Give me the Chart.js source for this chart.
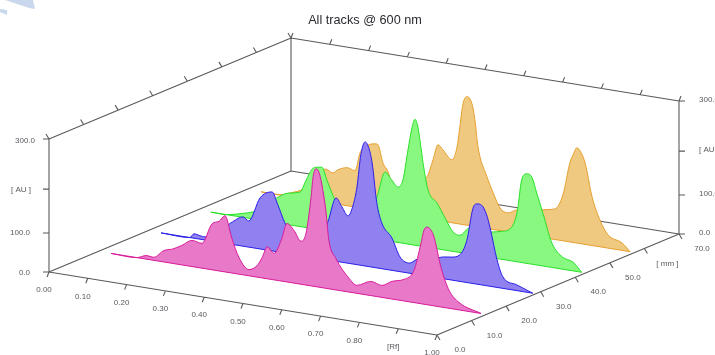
<!DOCTYPE html>
<html>
<head>
<meta charset="utf-8">
<title>All tracks @ 600 nm</title>
<script src="https://cdn.jsdelivr.net/npm/chart.js@4"></script>
<style>
  html, body { margin: 0; padding: 0; background: #fff; overflow: hidden; }
  #logo { position: absolute; left: 0; top: 0; width: 36px; height: 16px; background: #c9d8ec;
          clip-path: path("M5 0H33L35 9L29 8Z M0 9L7 10L7 15L0 12Z"); }
  canvas { position: absolute; left: 0; top: 0; filter: blur(0.3px); }
</style>
</head>
<body>
<div id="logo"></div>
<canvas id="chart" width="715" height="355"></canvas>
<script>
// one Rf / AU pair of lists per track, back track last
const pinkRf = [.033,.099,.123,.143,.169,.190,.215,.241,.267,.293,.311,.326,.344,.362,.388,.409,.422,.435,.453,.471,.486,.504,.522,.535,.548,.553,.561,.570,.578,.586,.594,.612,.646,.666,.702,.731,.757,.788,.813,.831,.839,.847,.856,.865,.883,.904,.929,.986];
const pinkAu = [0,0,8,7,26,32,44,59,56,104,112,127,78,38,14,26,46,72,60,92,132,119,97,117,200,245,266,255,222,176,109,71,31,18,32,27,40,49,72,135,167,175,171,155,89,40,17,0];
const blueRf = [.034,.108,.119,.134,.147,.173,.196,.214,.245,.260,.289,.320,.335,.353,.382,.402,.420,.436,.451,.464,.485,.500,.516,.529,.539,.549,.560,.570,.578,.590,.603,.629,.650,.675,.696,.727,.761,.784,.804,.822,.838,.848,.860,.873,.882,.900,.915,.951,.992];
const blueAu = [0,0,10,8,7,22,35,48,66,59,115,133,106,68,30,30,55,72,58,86,143,125,107,133,176,250,280,266,235,147,103,73,33,23,35,38,49,52,60,95,170,181,180,160,132,62,26,13,0];
const greenRf = [.034,.076,.117,.143,.173,.204,.233,.264,.279,.295,.307,.320,.333,.354,.372,.393,.413,.434,.449,.462,.483,.500,.517,.529,.542,.552,.560,.567,.576,.581,.594,.617,.638,.658,.676,.702,.722,.753,.787,.800,.823,.835,.848,.861,.874,.890,.913,.941,.967,.990];
const greenAu = [0,0,9,16,30,56,71,78,106,134,140,142,115,72,45,20,40,68,70,95,154,139,125,143,212,262,284,270,220,188,129,103,72,44,39,60,55,57,64,68,110,186,202,197,162,119,55,27,20,0];
const orangeRf = [.037,.086,.112,.143,.171,.202,.222,.235,.259,.279,.292,.310,.331,.338,.351,.364,.377,.408,.434,.449,.465,.480,.493,.506,.529,.542,.558,.568,.580,.588,.596,.619,.635,.653,.674,.697,.730,.764,.794,.815,.833,.842,.851,.862,.872,.890,.910,.931,.967,.988];
const orangeAu = [0,0,8,20,39,75,69,78,86,82,124,143,150,149,110,92,60,45,90,85,95,135,171,161,142,173,275,290,277,241,181,117,83,51,43,53,50,63,69,104,179,200,215,205,184,110,61,30,17,0];
const trackMm = [14.3, 28.6, 43, 57.2];

const rfTicks = [0, .1, .2, .3, .4, .5, .6, .7, .8, .9, 1];
const rfLabels = ["0.00", "0.10", "0.20", "0.30", "0.40", "0.50", "0.60", "0.70", "0.80", "[Rf]", "1.00"];
const mmTicks = [0, 10, 20, 30, 40, 50, 60, 70];
const mmLabels = ["0.0", "10.0", "20.0", "30.0", "40.0", "50.0", "[ mm ]", "70.0"];
const auTicks = [0, 88, 187, 300];
const auLabels = ["0.0", "100.0", "[ AU ]", "300.0"];

// parallel projection of the box onto the page
function project(rf, mm, au) {
  return {
    x: 49 + 388 * rf + 242 * mm / 70,
    y: 272 + 63 * rf - 101 * mm / 70 - 133 * au / 300,
  };
}

function trackPoints(rf, au, mm) {
  return rf.map((r, i) => project(r, mm, au[i]));
}

const GAP = { x: NaN, y: NaN };
function seg(a, b, dx, dy) {
  const end = b || { x: a.x + dx, y: a.y + dy };
  return [a, end, GAP];
}

// box edges and tick marks, one broken line
const framePts = [];
const edges = [
  [[0, 0, 0], [1, 0, 0]], [[1, 0, 0], [1, 70, 0]], [[0, 0, 0], [0, 70, 0]], [[0, 70, 0], [1, 70, 0]],
  [[0, 0, 0], [0, 0, 300]], [[0, 70, 0], [0, 70, 300]], [[1, 70, 0], [1, 70, 300]],
  [[0, 0, 300], [0, 70, 300]], [[0, 70, 300], [1, 70, 300]],
];
edges.forEach(([a, b]) => framePts.push(...seg(project(...a), project(...b))));
rfTicks.forEach((r) => {
  framePts.push(...seg(project(r, 0, 0), null, -2, 5));
  framePts.push(...seg(project(r, 70, 300), null, 2, -5));
});
mmTicks.forEach((m) => {
  framePts.push(...seg(project(1, m, 0), null, 3, 5));
  framePts.push(...seg(project(0, m, 300), null, -3, -5));
});
auTicks.forEach((a) => {
  framePts.push(...seg(project(0, 0, a), null, -6, 0));
  framePts.push(...seg(project(1, 70, a), null, 6, 0));
});

function trackSets(rf, au, mm, line, fill, order) {
  const pts = trackPoints(rf, au, mm);
  return [
    { data: pts, borderColor: line, backgroundColor: fill, fill: "shape", borderWidth: 1, cubicInterpolationMode: "monotone", order: order, clip: false },
    { data: [pts[0], pts[pts.length - 1]], borderColor: line, borderWidth: 1, fill: false, order: order - 0.5, clip: false },
  ];
}

const auLeftEnd = [30, 30, 31, 35];
const auLeftShift = [1, 0, 1, 2];

const axisText = {
  id: "axisText",
  afterDraw(chart) {
    const { ctx, scales } = chart;
    const at = (p, dx, dy) => [scales.x.getPixelForValue(p.x) + dx, scales.y.getPixelForValue(p.y) + dy];
    ctx.save();
    ctx.font = "8px 'Liberation Sans'";
    ctx.fillStyle = "#5a5a60";
    ctx.textBaseline = "middle";
    ctx.textAlign = "center";
    rfTicks.forEach((r, i) => ctx.fillText(rfLabels[i], ...at(project(r, 0, 0), -5, 18)));
    mmTicks.forEach((m, i) => ctx.fillText(mmLabels[i], ...at(project(1, m, 0), 23, 15)));
    ctx.textAlign = "right";
    auTicks.forEach((a, i) => ctx.fillText(auLabels[i], ...at(project(0, 0, a), auLeftEnd[i] - 49, auLeftShift[i])));
    ctx.textAlign = "left";
    auTicks.forEach((a, i) => ctx.fillText(auLabels[i], ...at(project(1, 70, a), 20, -1)));
    ctx.restore();
  },
};

new Chart(document.getElementById("chart").getContext("2d"), {
  type: "line",
  data: {
    datasets: [
      { data: framePts, borderColor: "#59595c", borderWidth: 1.1, fill: false, order: 10, clip: false, spanGaps: false },
      ...trackSets(orangeRf, orangeAu, trackMm[3], "#e6a030", "#efc97f", 9),
      ...trackSets(greenRf, greenAu, trackMm[2], "#28e028", "#88f880", 8),
      ...trackSets(blueRf, blueAu, trackMm[1], "#2a20e8", "#9080f0", 7),
      ...trackSets(pinkRf, pinkAu, trackMm[0], "#d81b9a", "#e878c8", 6),
    ],
  },
  options: {
    responsive: false,
    animation: false,
    parsing: { xAxisKey: "x", yAxisKey: "y" },
    layout: { padding: { left: 15 } },
    elements: { point: { radius: 0 } },
    scales: {
      x: { type: "linear", display: false, min: 15, max: 715 },
      y: { type: "linear", display: false, min: 28, max: 355, reverse: true },
    },
    plugins: {
      legend: { display: false },
      tooltip: { enabled: false },
      title: {
        display: true,
        text: "All tracks @ 600 nm",
        color: "#2a2a30",
        font: { family: "'Liberation Sans'", size: 12.7, weight: "normal", lineHeight: 1.2 },
        padding: { top: 12.5, bottom: 0.26 },
      },
    },
  },
  plugins: [axisText],
});
</script>
</body>
</html>
